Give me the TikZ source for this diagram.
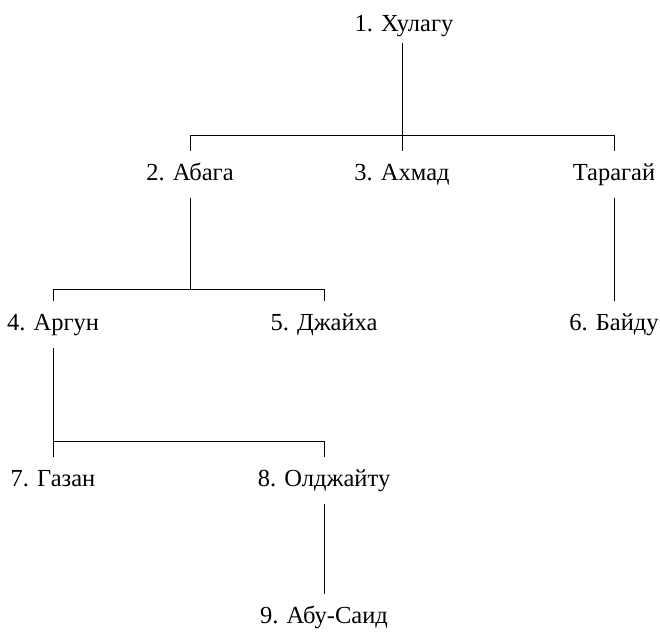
\documentclass[tikz,border=0pt]{standalone}
\usepackage{fontspec}
\setmainfont{Liberation Serif}
\tikzset{
  person/.style={anchor=base, font=\fontsize{24.5}{28}\selectfont, text height=17pt, text depth=6pt, inner xsep=0pt, inner ysep=12pt},
  link/.style={line width=0.8pt, black}
}
\begin{document}
\begin{tikzpicture}[x=1pt,y=-1pt]
\useasboundingbox[fill=white] (0,0) rectangle (660,634);
\node[person] (h1) at (404,32) {1. Хулагу};
\node[person] (a2) at (190,180) {2. Абага};
\node[person] (a3) at (402,180) {3. Ахмад};
\node[person] (t)  at (614,180) {Тарагай};
\node[person] (a4) at (53,330) {4. Аргун};
\node[person] (a5) at (324,330) {5. Джайха};
\node[person] (a6) at (614,330) {6. Байду};
\node[person] (a7) at (53,486) {7. Газан};
\node[person] (a8) at (324,486) {8. Олджайту};
\node[person] (a9) at (324,623) {9. Абу-Саид};
\coordinate (b1) at (0,135);
\coordinate (b2) at (0,289);
\coordinate (b3) at (0,441);
\coordinate (h1foot) at ([yshift=7pt]h1.south);
\draw[link] (h1foot -| a3) -- (a3 |- b1);
\draw[link] (a2.north) -- (a2.north |- b1) -- (t.north |- b1) -- (t.north);
\draw[link] (a3.north) -- (a3.north |- b1);
\draw[link] (t.south) -- (a6.north);
\draw[link] (a2.south) -- (a2.south |- b2);
\draw[link] (a4.north) -- (a4.north |- b2) -- (a5.north |- b2) -- (a5.north);
\draw[link] (a4.south) -- (a4.south |- b3);
\draw[link] (a7.north) -- (a7.north |- b3) -- (a8.north |- b3) -- (a8.north);
\draw[link] (a8.south) -- (a9.north);
\end{tikzpicture}
\end{document}
